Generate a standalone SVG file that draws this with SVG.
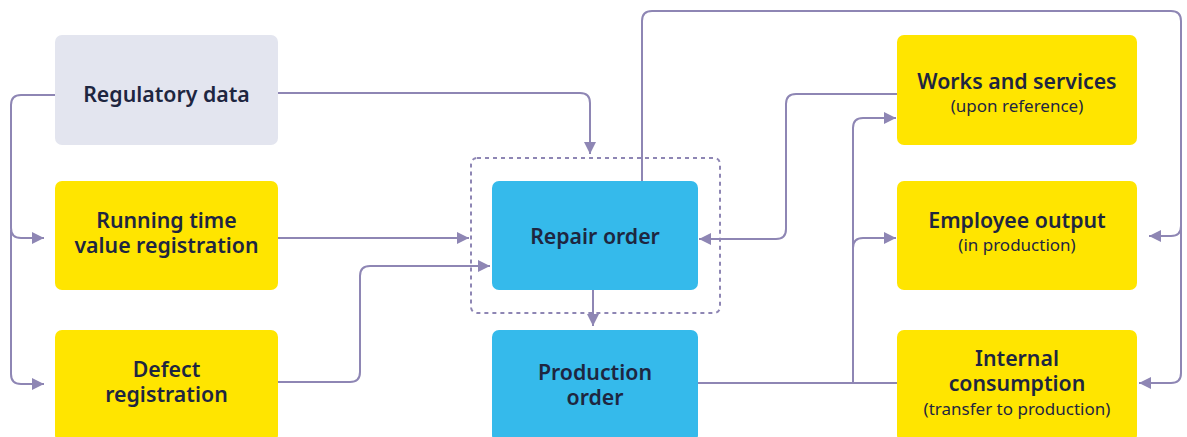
<svg xmlns="http://www.w3.org/2000/svg" width="1187" height="437" viewBox="0 0 1187 437">
<style>
.node rect{stroke:none}
.y{fill:#FFE500}.b{fill:#35BAEB}.g{fill:#E3E5EF}
text{font-family:"Noto Sans","Liberation Sans",sans-serif;fill:#1E2640;text-anchor:middle}
.t{font-size:21.3px;font-weight:600}
.s{font-size:17px;font-weight:400}
.c{fill:none;stroke:#8E86B4;stroke-width:2}
</style>
<defs>
<marker id="a" markerUnits="userSpaceOnUse" markerWidth="14" markerHeight="14" refX="12" refY="6" orient="auto"><path d="M0,0L12,6L0,12Z" fill="#8E86B4"/></marker>
</defs>
<g id="connectors">
<path class="c" d="M55,95H21Q11,95 11,105V228Q11,238 21,238H44" marker-end="url(#a)"/>
<path class="c" d="M11,230V374Q11,384 21,384H44" marker-end="url(#a)"/>
<path class="c" d="M278,93H580Q590,93 590,103V154" marker-end="url(#a)"/>
<path class="c" d="M278,238H469" marker-end="url(#a)"/>
<path class="c" d="M278,382H350Q360,382 360,372V276Q360,266 370,266H490" marker-end="url(#a)"/>
<path class="c" d="M642,181V21Q642,11 652,11H1171Q1181,11 1181,21V226Q1181,236 1171,236H1149" marker-end="url(#a)"/>
<path class="c" d="M1181,226V373Q1181,383 1171,383H1139" marker-end="url(#a)"/>
<path class="c" d="M897,94H796Q786,94 786,104V229Q786,239 776,239H699" marker-end="url(#a)"/>
<path class="c" d="M698,383H897"/>
<path class="c" d="M853,383V128Q853,118 863,118H896" marker-end="url(#a)"/>
<path class="c" d="M853,248Q853,238 863,238H896" marker-end="url(#a)"/>
<path class="c" d="M593,290V326" marker-end="url(#a)"/>
<rect x="471" y="158" width="249" height="155" rx="6" fill="none" stroke="#8E86B4" stroke-width="2" stroke-dasharray="4,4"/>
</g>
<g id="regulatory" class="node"><rect class="g" x="55" y="35" width="223" height="110" rx="7"/><text class="t" x="166.5" y="102">Regulatory data</text></g>
<g id="running" class="node"><rect class="y" x="55" y="181" width="223" height="109" rx="7"/><text class="t" x="166.5" y="228">Running time</text><text class="t" x="166.5" y="253">value registration</text></g>
<g id="defect" class="node"><rect class="y" x="55" y="330" width="223" height="112" rx="7"/><text class="t" x="166.5" y="377">Defect</text><text class="t" x="166.5" y="402">registration</text></g>
<g id="repair" class="node"><rect class="b" x="492" y="181" width="206" height="109" rx="7"/><text class="t" x="595" y="244">Repair order</text></g>
<g id="production" class="node"><rect class="b" x="492" y="330" width="206" height="112" rx="7"/><text class="t" x="595" y="380">Production</text><text class="t" x="595" y="405">order</text></g>
<g id="works" class="node"><rect class="y" x="897" y="35" width="240" height="110" rx="7"/><text class="t" x="1017" y="89">Works and services</text><text class="s" x="1017" y="112">(upon reference)</text></g>
<g id="employee" class="node"><rect class="y" x="897" y="181" width="240" height="109" rx="7"/><text class="t" x="1017" y="228">Employee output</text><text class="s" x="1017" y="251">(in production)</text></g>
<g id="internal" class="node"><rect class="y" x="897" y="330" width="240" height="112" rx="7"/><text class="t" x="1017" y="366">Internal</text><text class="t" x="1017" y="391">consumption</text><text class="s" x="1017" y="415">(transfer to production)</text></g>
</svg>
